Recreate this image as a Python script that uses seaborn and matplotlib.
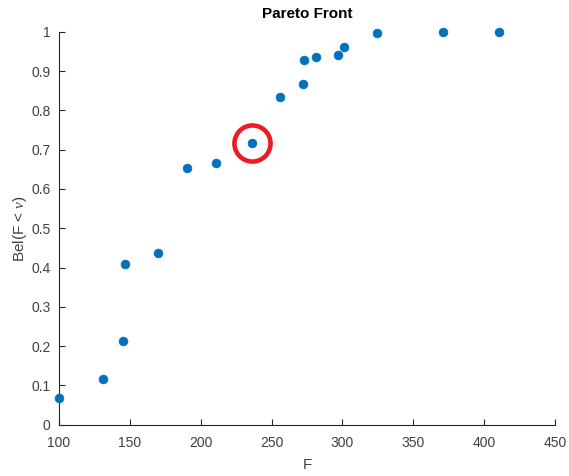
import matplotlib
matplotlib.use("Agg")
import matplotlib.pyplot as plt
import matplotlib.ticker as mticker
import seaborn as sns
import pandas as pd

F = [100, 130.9, 145.4, 146.4, 170, 190, 210.5, 236.5, 256, 272.4, 273.2,
     281, 297, 300.8, 324.7, 371, 410.5]
Bel = [0.068, 0.115, 0.214, 0.409, 0.436, 0.653, 0.665, 0.718, 0.835, 0.868,
       0.929, 0.936, 0.942, 0.962, 0.997, 0.999, 1.0]
highlight_F = [236.5]
highlight_Bel = [0.718]
x_ticks = [100, 150, 200, 250, 300, 350, 400, 450]
y_ticks = [0, 0.1, 0.2, 0.3, 0.4, 0.5, 0.6, 0.7, 0.8, 0.9, 1]

sns.set_style("white")
plt.rcParams['font.family'] = ['Liberation Sans', 'DejaVu Sans']
plt.rcParams['mathtext.fontset'] = 'custom'
plt.rcParams['mathtext.it'] = 'Liberation Serif:italic'

df = pd.DataFrame({"F": F, "Bel": Bel})

fig = plt.figure(figsize=(5.69, 4.76), dpi=100)
ax = fig.add_axes([0.1037, 0.108, 0.9754 - 0.1037, 0.933 - 0.108])

sns.scatterplot(data=df, x="F", y="Bel", ax=ax, color="#0072BD", s=40,
                edgecolor="#0072BD", linewidth=0.5, zorder=3, clip_on=False)
ax.plot(highlight_F, highlight_Bel, 'o', markersize=26, markerfacecolor='none',
        markeredgecolor='#ED1C24', markeredgewidth=3.3, zorder=4)

ax.set_xlim(100, 450)
ax.set_ylim(0, 1)
ax.set_xticks(x_ticks)
ax.set_yticks(y_ticks)
ax.yaxis.set_major_formatter(mticker.FuncFormatter(lambda v, p: f"{v:g}"))

for s in ['top', 'right']:
    ax.spines[s].set_visible(False)
for s in ['left', 'bottom']:
    ax.spines[s].set_color('#262626')
    ax.spines[s].set_linewidth(0.8)
ax.tick_params(direction='in', length=4, width=0.8, colors='#262626',
               labelsize=10, labelcolor='#404040', left=True, bottom=True)
ax.tick_params(axis='x', pad=8)
ax.tick_params(axis='y', pad=6)

ax.set_title("Pareto Front", fontsize=11, fontweight='bold', color='black', pad=10)
ax.set_xlabel("F", fontsize=11, color='#404040', labelpad=6)
ax.set_ylabel(r"Bel(F < $\nu$)", fontsize=11, color='#404040', labelpad=2)

fig.savefig("out.png", dpi=100)
